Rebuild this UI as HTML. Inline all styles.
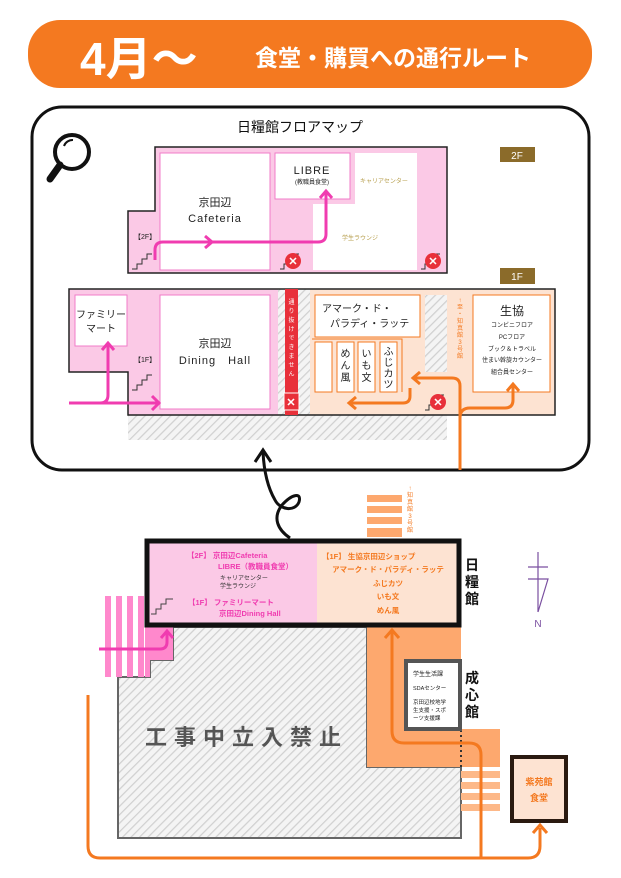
<!DOCTYPE html>
<html><head><meta charset="utf-8"><style>
html,body{margin:0;padding:0;background:#fff;}
svg{display:block;font-family:"Liberation Sans","Noto Sans CJK JP",sans-serif;}
</style></head><body>
<svg width="621" height="878" viewBox="0 0 621 878" xmlns="http://www.w3.org/2000/svg">
<defs>
<pattern id="h" patternUnits="userSpaceOnUse" width="6" height="6" patternTransform="rotate(45)">
<rect width="6" height="6" fill="#f4f4f4"/><line x1="0" y1="0" x2="0" y2="6" stroke="#d0d0d0" stroke-width="2.5"/>
</pattern>
</defs>
<!-- header -->
<rect x="28" y="20" width="564" height="68" rx="32" fill="#F47920"/>
<text x="80" y="75" font-size="46" font-weight="bold" fill="#fff">4月〜</text>
<text x="255" y="66" font-size="23" font-weight="bold" fill="#fff">食堂・購買への通行ルート</text>

<!-- floor map frame -->
<rect x="32" y="107" width="557" height="363" rx="30" fill="#fff" stroke="#111" stroke-width="3"/>
<text x="300" y="132" font-size="14" text-anchor="middle" fill="#111">日糧館フロアマップ</text>
<circle cx="72" cy="152" r="17" fill="none" stroke="#111" stroke-width="4"/>
<line x1="60" y1="165" x2="50" y2="179" stroke="#111" stroke-width="7" stroke-linecap="round"/>
<path d="M64 146 a9 9 0 0 1 9 -6" stroke="#111" stroke-width="2" fill="none"/>
<rect x="500" y="147" width="35" height="15" fill="#8B6B2A"/>
<text x="517" y="159" font-size="10" fill="#fff" text-anchor="middle">2F</text>
<rect x="500" y="268" width="35" height="16" fill="#8B6B2A"/>
<text x="517" y="280" font-size="10" fill="#fff" text-anchor="middle">1F</text>

<!-- 2F -->
<path d="M155 147 H447 V273 H128 V211 H155 Z" fill="#FBC9E6" stroke="#222" stroke-width="1.5"/>
<rect x="160" y="153" width="110" height="117" fill="#fff" stroke="#f07cc8"/>
<text x="215" y="206" font-size="11" text-anchor="middle" fill="#222">京田辺</text>
<text x="215" y="222" font-size="11" text-anchor="middle" fill="#222" letter-spacing="1">Cafeteria</text>
<rect x="275" y="153" width="75" height="46" fill="#fff" stroke="#f07cc8"/>
<text x="312" y="174" font-size="11" text-anchor="middle" fill="#222" letter-spacing="1">LIBRE</text>
<text x="312" y="184" font-size="6" text-anchor="middle" fill="#222">(教職員食堂)</text>
<path d="M355 153 H417 V270 H313 V204 H355 Z" fill="#fff"/>
<text x="360" y="183" font-size="6" fill="#b8a050">キャリアセンター</text>
<text x="342" y="240" font-size="6" fill="#b8a050">学生ラウンジ</text>
<text x="134" y="239" font-size="7" fill="#222">【2F】</text>
<path d="M132 269 h5 v-5 h5 v-5 h5 v-5 h5" fill="none" stroke="#333"/>
<path d="M280 269 h4 v-5 h5 v-5 h5 v-5 h5" fill="none" stroke="#333"/>
<path d="M421 269 h4 v-5 h5 v-5 h5 v-5 h5" fill="none" stroke="#333"/>
<path d="M155 260 V250 q0 -8 8 -8 H318 q8 0 8 -8 V192" fill="none" stroke="#F03CB0" stroke-width="3"/>
<path d="M205 236 l7 6 l-7 6" fill="none" stroke="#F03CB0" stroke-width="3"/>
<path d="M320 198 l6 -7 l6 7" fill="none" stroke="#F03CB0" stroke-width="3"/>
<circle cx="293" cy="261" r="8" fill="#E8303A"/><text x="293" y="265" font-size="11" font-weight="bold" fill="#fff" text-anchor="middle">✕</text>
<circle cx="433" cy="261" r="8" fill="#E8303A"/><text x="433" y="265" font-size="11" font-weight="bold" fill="#fff" text-anchor="middle">✕</text>

<!-- 1F -->
<rect x="128" y="415" width="319" height="25" fill="url(#h)"/>
<path d="M69 289 H285 V415 H128 V372 H69 Z" fill="#FBC9E6"/>
<path d="M298 289 H555 V415 H298 Z" fill="#FDE3D2"/>
<rect x="278" y="289" width="7" height="126" fill="url(#h)"/>
<rect x="298" y="289" width="12" height="126" fill="url(#h)"/>
<path d="M69 289 H555 V415 H128 V372 H69 Z" fill="none" stroke="#222" stroke-width="1.5"/>
<rect x="75" y="295" width="52" height="51" fill="#fff" stroke="#f07cc8"/>
<text x="101" y="318" font-size="10" text-anchor="middle" fill="#222">ファミリー</text>
<text x="101" y="332" font-size="10" text-anchor="middle" fill="#222">マート</text>
<rect x="160" y="295" width="110" height="114" fill="#fff" stroke="#f07cc8"/>
<text x="215" y="347" font-size="11" text-anchor="middle" fill="#222">京田辺</text>
<text x="215" y="364" font-size="11" text-anchor="middle" fill="#222" letter-spacing="1">Dining　Hall</text>
<text x="134" y="362" font-size="7" fill="#222">【1F】</text>
<path d="M132 390 h5 v-5 h5 v-5 h5 v-5 h5" fill="none" stroke="#333"/>
<rect x="285" y="289" width="13" height="126" fill="#E8303A"/>
<text font-size="6" fill="#fff" text-anchor="middle"><tspan x="291.5" y="304">通</tspan><tspan x="291.5" y="313">り</tspan><tspan x="291.5" y="322">抜</tspan><tspan x="291.5" y="331">け</tspan><tspan x="291.5" y="340">で</tspan><tspan x="291.5" y="349">き</tspan><tspan x="291.5" y="358">ま</tspan><tspan x="291.5" y="367">せ</tspan><tspan x="291.5" y="376">ん</tspan></text>
<rect x="284" y="393" width="15" height="17" fill="#E8303A" stroke="#fff"/><text x="291" y="406" font-size="11" fill="#fff" text-anchor="middle" font-weight="bold">✕</text>
<rect x="315" y="295" width="105" height="42" fill="#fff" stroke="#F47920"/>
<text x="322" y="312" font-size="10" fill="#222">アマーク・ド・</text>
<text x="330" y="327" font-size="10" fill="#222">パラディ・ラッテ</text>
<path d="M312 339 H402 V392" fill="none" stroke="#F47920"/>
<rect x="315" y="342" width="17" height="50" fill="#fff" stroke="#F47920"/>
<rect x="337" y="342" width="17" height="50" fill="#fff" stroke="#F47920"/>
<rect x="358" y="342" width="17" height="50" fill="#fff" stroke="#F47920"/>
<rect x="380" y="342" width="17" height="50" fill="#fff" stroke="#F47920"/>
<text font-size="10" fill="#222" text-anchor="middle"><tspan x="345.5" y="357">め</tspan><tspan x="345.5" y="369">ん</tspan><tspan x="345.5" y="381">風</tspan></text>
<text font-size="10" fill="#222" text-anchor="middle"><tspan x="366.5" y="357">い</tspan><tspan x="366.5" y="369">も</tspan><tspan x="366.5" y="381">文</tspan></text>
<text font-size="10" fill="#222" text-anchor="middle"><tspan x="388.5" y="355">ふ</tspan><tspan x="388.5" y="366">じ</tspan><tspan x="388.5" y="377">カ</tspan><tspan x="388.5" y="388">ツ</tspan></text>
<rect x="425" y="295" width="22" height="77" fill="url(#h)"/>
<text font-size="6" fill="#F47920" text-anchor="middle"><tspan x="460" y="302">↑</tspan><tspan x="460" y="309">至</tspan><tspan x="460" y="316">・</tspan><tspan x="460" y="323">知</tspan><tspan x="460" y="330">真</tspan><tspan x="460" y="337">館</tspan><tspan x="460" y="344">3</tspan><tspan x="460" y="351">号</tspan><tspan x="460" y="358">館</tspan></text>
<rect x="473" y="295" width="77" height="97" fill="#fff" stroke="#F47920"/>
<text x="512" y="315" font-size="12" text-anchor="middle" fill="#222">生協</text>
<text x="512" y="327" font-size="6" text-anchor="middle" fill="#222">コンビニフロア</text>
<text x="512" y="339" font-size="6" text-anchor="middle" fill="#222">PCフロア</text>
<text x="512" y="351" font-size="6" text-anchor="middle" fill="#222">ブック＆トラベル</text>
<text x="512" y="362" font-size="6" text-anchor="middle" fill="#222">住まい斡旋カウンター</text>
<text x="512" y="374" font-size="6" text-anchor="middle" fill="#222">組合員センター</text>
<path d="M425 410 h4 v-5 h5 v-5 h5 v-5 h5" fill="none" stroke="#333"/>
<circle cx="438" cy="402" r="8" fill="#E8303A"/><text x="438" y="406" font-size="11" font-weight="bold" fill="#fff" text-anchor="middle">✕</text>
<!-- 1F arrows -->
<path d="M69 403 H100 q8 0 8 -8 V344" fill="none" stroke="#F03CB0" stroke-width="3"/>
<path d="M100 403 H158" fill="none" stroke="#F03CB0" stroke-width="3"/>
<path d="M152 396 l7 7 l-7 7" fill="none" stroke="#F03CB0" stroke-width="3"/>
<path d="M102 350 l6 -7 l6 7" fill="none" stroke="#F03CB0" stroke-width="3"/>
<path d="M460 470 V418 q0 -10 10 -10 H505 q8 0 8 -8 V385" fill="none" stroke="#F47920" stroke-width="3"/>
<path d="M507 391 l6 -7 l6 7" fill="none" stroke="#F47920" stroke-width="3"/>
<path d="M460 420 V386 q0 -8 -8 -8 H414" fill="none" stroke="#F47920" stroke-width="3"/>
<path d="M420 372 l-7 6 l7 6" fill="none" stroke="#F47920" stroke-width="3"/>
<path d="M410 388 V396 q0 7 -7 7 H350" fill="none" stroke="#F47920" stroke-width="3"/>
<path d="M356 397 l-7 6 l7 6" fill="none" stroke="#F47920" stroke-width="3"/>

<!-- black curly arrow -->
<path d="M290 538 C278 530 272 518 282 505 C292 494 302 492 299 502 C295 512 280 510 275 500 C268 488 264 472 263 452" fill="none" stroke="#111" stroke-width="3"/>
<path d="M255 462 l8 -12 l8 12" fill="none" stroke="#111" stroke-width="3"/>

<!-- bottom site -->
<path d="M173 627 H367 V767 H461 V838 H118 V677 H150 V660 H173 Z" fill="url(#h)" stroke="#666" stroke-width="2"/>
<text x="145" y="745" font-size="22" font-weight="bold" fill="#555" letter-spacing="7">工事中立入禁止</text>
<path d="M145 627 H173 V660 H150 V677 H145 Z" fill="#FF88CC"/>
<g fill="#FF88CC"><rect x="105" y="596" width="6" height="81"/><rect x="116" y="596" width="6" height="81"/><rect x="127" y="596" width="6" height="81"/><rect x="138" y="596" width="6" height="81"/></g>
<rect x="367" y="627" width="94" height="140" fill="#FDA86E"/>
<rect x="461" y="729" width="39" height="38" fill="#FDA86E"/>
<g fill="#FDB888"><rect x="461" y="771" width="39" height="7"/><rect x="461" y="782" width="39" height="7"/><rect x="461" y="793" width="39" height="7"/><rect x="461" y="804" width="39" height="7"/></g>
<line x1="461" y1="730" x2="461" y2="767" stroke="#333" stroke-width="2" stroke-dasharray="2,3"/>
<rect x="406" y="661" width="54" height="68" fill="#fff" stroke="#555" stroke-width="4"/>
<text x="413" y="676" font-size="6" fill="#222">学生生活課</text>
<text x="413" y="690" font-size="5.5" fill="#222">SDAセンター</text>
<text x="413" y="704" font-size="5.5" fill="#222">京田辺校地学</text>
<text x="413" y="712" font-size="5.5" fill="#222">生支援・スポ</text>
<text x="413" y="720" font-size="5.5" fill="#222">ーツ支援課</text>
<text x="465" y="683" font-size="14" font-weight="bold" fill="#111">成</text>
<text x="465" y="700" font-size="14" font-weight="bold" fill="#111">心</text>
<text x="465" y="717" font-size="14" font-weight="bold" fill="#111">館</text>
<g fill="#FDA86E"><rect x="367" y="495" width="35" height="7"/><rect x="367" y="506" width="35" height="7"/><rect x="367" y="517" width="35" height="7"/><rect x="367" y="528" width="35" height="9"/></g>
<text font-size="6" fill="#F47920" text-anchor="middle"><tspan x="410" y="490">↑</tspan><tspan x="410" y="497">知</tspan><tspan x="410" y="504">真</tspan><tspan x="410" y="511">館</tspan><tspan x="410" y="518">3</tspan><tspan x="410" y="525">号</tspan><tspan x="410" y="532">館</tspan></text>
<!-- nikkou building -->
<rect x="147" y="541" width="170" height="84" fill="#FBC9E6"/>
<rect x="317" y="541" width="142" height="84" fill="#FDE3D2"/>
<rect x="147" y="541" width="312" height="84" fill="none" stroke="#111" stroke-width="5"/>
<text x="187" y="558" font-size="7.5" font-weight="bold" fill="#F03CB0">【2F】 京田辺Cafeteria</text>
<text x="218" y="569" font-size="7.5" font-weight="bold" fill="#F03CB0">LIBRE（教職員食堂）</text>
<text x="220" y="580" font-size="6" fill="#333">キャリアセンター</text>
<text x="220" y="588" font-size="6" fill="#333">学生ラウンジ</text>
<text x="188" y="605" font-size="7.5" font-weight="bold" fill="#F03CB0">【1F】 ファミリーマート</text>
<text x="219" y="616" font-size="7.5" font-weight="bold" fill="#F03CB0">京田辺Dining Hall</text>
<path d="M151 614 h5 v-5 h5 v-5 h5 v-5 h7" fill="none" stroke="#444"/>
<text x="322" y="559" font-size="7.5" font-weight="bold" fill="#F47920">【1F】 生協京田辺ショップ</text>
<text x="388" y="572" font-size="7.5" font-weight="bold" fill="#F47920" text-anchor="middle">アマーク・ド・パラディ・ラッテ</text>
<text x="388" y="586" font-size="7.5" font-weight="bold" fill="#F47920" text-anchor="middle">ふじカツ</text>
<text x="388" y="599" font-size="7.5" font-weight="bold" fill="#F47920" text-anchor="middle">いも文</text>
<text x="388" y="613" font-size="7.5" font-weight="bold" fill="#F47920" text-anchor="middle">めん風</text>
<text x="465" y="570" font-size="14" font-weight="bold" fill="#111">日</text>
<text x="465" y="587" font-size="14" font-weight="bold" fill="#111">糧</text>
<text x="465" y="604" font-size="14" font-weight="bold" fill="#111">館</text>
<!-- compass -->
<path d="M538 552 V612 M528 567 H548 M528 579 H548 L538 612" fill="none" stroke="#7a4fa0" stroke-width="1.2"/>
<text x="538" y="627" font-size="10" fill="#7a4fa0" text-anchor="middle">N</text>
<!-- 紫苑館 -->
<rect x="512" y="757" width="54" height="64" fill="#FDE3D2" stroke="#2a1a10" stroke-width="4"/>
<text x="539" y="785" font-size="9" font-weight="bold" fill="#F47920" text-anchor="middle">紫苑館</text>
<text x="539" y="801" font-size="9" font-weight="bold" fill="#F47920" text-anchor="middle">食堂</text>
<!-- routes -->
<path d="M88 695 V846 q0 12 12 12 H528 q12 0 12 -12 V828" fill="none" stroke="#F47920" stroke-width="3"/>
<path d="M533 833 l7 -8 l7 8" fill="none" stroke="#F47920" stroke-width="3"/>
<path d="M481 858 V755 q0 -12 -12 -12 H404 q-12 0 -12 -12 V632" fill="none" stroke="#F47920" stroke-width="3"/>
<path d="M385 638 l7 -8 l7 8" fill="none" stroke="#F47920" stroke-width="3"/>
<path d="M99 649 H160 q7 0 7 -7 V632" fill="none" stroke="#F03CB0" stroke-width="3"/>
<path d="M161 638 l6 -7 l6 7" fill="none" stroke="#F03CB0" stroke-width="3"/>
</svg>
</body></html>
